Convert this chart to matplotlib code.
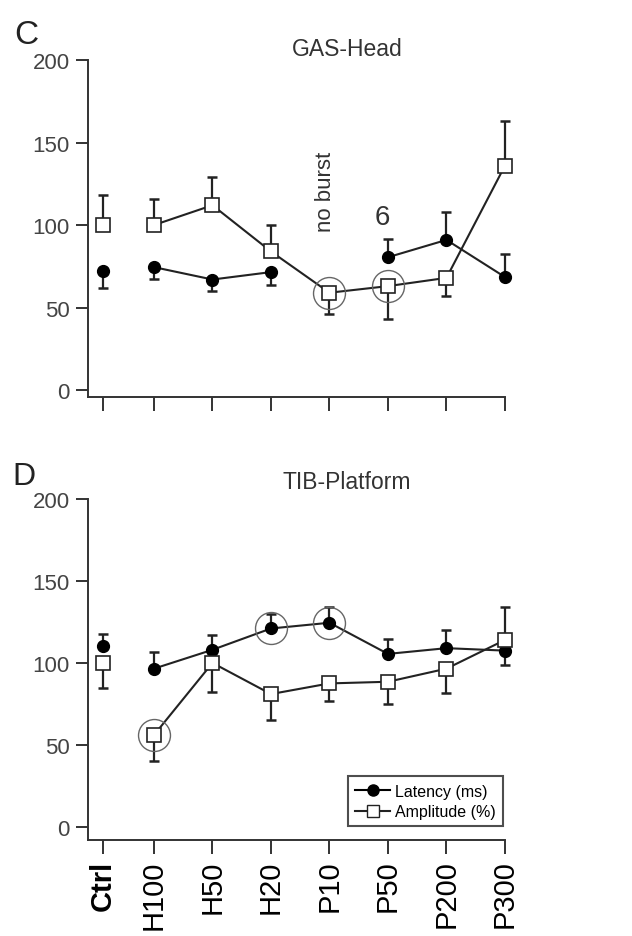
import matplotlib.pyplot as plt
import numpy as np

plt.rcParams['font.family'] = ['Liberation Sans', 'DejaVu Sans']

categories = ['Ctrl', 'H100', 'H50', 'H20', 'P10', 'P50', 'P200', 'P300']

# GAS-Head (panel C)
gas_latency = [72, 74.5, 67, 71.5, np.nan, 80.5, 91, 68.5]
gas_latency_lo = [10, 7, 7, 8, 0, 0, 0, 0]
gas_latency_hi = [0, 0, 0, 0, 0, 11, 17, 14]
gas_amplitude = [100, 100, 112, 84, 59, 63, 68, 136]
gas_amplitude_lo = [0, 0, 0, 0, 13, 20, 11, 0]
gas_amplitude_hi = [18, 16, 17, 16, 0, 0, 0, 27]
gas_circled = [(4, 59), (5, 63)]

# TIB-Platform (panel D)
tib_latency = [110.5, 96.5, 108, 121, 124.5, 105.5, 109, 107.5]
tib_latency_lo = [0, 0, 0, 0, 0, 0, 0, 9]
tib_latency_hi = [7, 10, 9, 9, 9.5, 9, 11, 0]
tib_amplitude = [100, 56, 100, 81, 87.5, 88.5, 96.5, 114]
tib_amplitude_lo = [15, 16, 18, 16, 11, 13.5, 15, 0]
tib_amplitude_hi = [0, 0, 0, 0, 0, 0, 0, 20]
tib_circled = [(1, 56), (3, 121), (4, 124.5)]

# Ctrl sits a bit closer to H100 than the regular spacing
xpos = np.arange(len(categories), dtype=float)
xpos[0] = 0.13

ink = '#222222'


def panel(ax, latency, lat_lo, lat_hi, amplitude, amp_lo, amp_hi, circled,
          title, title_y, ybottom):
    lat = np.array(latency, dtype=float)
    amp = np.array(amplitude, dtype=float)

    for vals, lo, hi in ((amp, amp_lo, amp_hi), (lat, lat_lo, lat_hi)):
        eb = ax.errorbar(xpos, vals, yerr=[lo, hi], fmt='none', ecolor=ink,
                         elinewidth=1.6, capsize=3.8, capthick=1.8, zorder=2)
        for artist in eb.lines[1] + eb.lines[2]:
            artist.set_clip_on(False)

    # Ctrl is not joined to the rest
    ax.plot(xpos[1:], lat[1:], '-', color=ink, lw=1.5, zorder=3,
            clip_on=False)
    ax.plot(xpos[1:], amp[1:], '-', color=ink, lw=1.5, zorder=3,
            clip_on=False)
    ax.plot(xpos, lat, 'o', color='black', ms=8.5, zorder=4, clip_on=False)
    ax.plot(xpos, amp, 's', mfc='white', mec=ink, mew=1.2, ms=9.5, zorder=5,
            clip_on=False)

    for i, v in circled:
        ax.plot(xpos[i], v, 'o', mfc='none', mec='#666666', mew=1.0, ms=23,
                zorder=6)

    ax.set_xlim(-0.13, 7)
    ax.set_ylim(ybottom, 200)
    ax.set_yticks([0, 50, 100, 150, 200])
    ax.set_xticks(xpos)
    ax.spines['top'].set_visible(False)
    ax.spines['right'].set_visible(False)
    for s in ('left', 'bottom'):
        ax.spines[s].set_linewidth(1.4)
        ax.spines[s].set_color('#333333')
    ax.tick_params(axis='y', length=9, width=1.4, color='#333333',
                   labelsize=16, labelcolor='#444444', pad=4)
    ax.tick_params(axis='x', length=10, width=1.4, color='#333333', pad=4)
    ax.text(4.3, title_y, title, transform=ax.get_xaxis_transform(),
            ha='center', va='center', fontsize=16.5, color='#333333')


fig = plt.figure(figsize=(6.32, 9.37), dpi=100)
ax1 = fig.add_axes([0.139, 0.5752, 0.66, 0.3597])
ax2 = fig.add_axes([0.139, 0.1025, 0.66, 0.3639])

panel(ax1, gas_latency, gas_latency_lo, gas_latency_hi, gas_amplitude,
      gas_amplitude_lo, gas_amplitude_hi, gas_circled, 'GAS-Head', 1.035,
      -4.2)
ax1.set_xticklabels([])
ax1.text(3.93, 121, 'no burst', rotation=90, ha='center', va='center',
         fontsize=16, color='#333333')
ax1.text(4.9, 105, '6', ha='center', va='center', fontsize=20,
         color='#333333')

panel(ax2, tib_latency, tib_latency_lo, tib_latency_hi, tib_amplitude,
      tib_amplitude_lo, tib_amplitude_hi, tib_circled, 'TIB-Platform', 1.05,
      -8)
ax2.set_xticklabels(categories, rotation=90, fontsize=21)
ax2.get_xticklabels()[0].set_fontweight('bold')

lat_handle, = ax2.plot([], [], '-o', color='black', lw=1.5, ms=8)
amp_handle, = ax2.plot([], [], '-s', color=ink, mfc='white', mec=ink,
                       lw=1.5, ms=8.5)
leg = ax2.legend([lat_handle, amp_handle],
                 ['Latency (ms)', 'Amplitude (%)'],
                 loc='lower right', bbox_to_anchor=(0.995, 0.04),
                 borderaxespad=0, fancybox=False, fontsize=11.5,
                 handlelength=2.2, handletextpad=0.3, borderpad=0.45,
                 labelspacing=0.35)
leg.get_frame().set_edgecolor('#222222')
leg.get_frame().set_linewidth(1.5)

fig.text(0.022, 0.962, 'C', fontsize=24, ha='left', va='center',
         color='#222222')
fig.text(0.02, 0.491, 'D', fontsize=23, ha='left', va='center',
         color='#222222')

fig.savefig('out.png', dpi=100)
